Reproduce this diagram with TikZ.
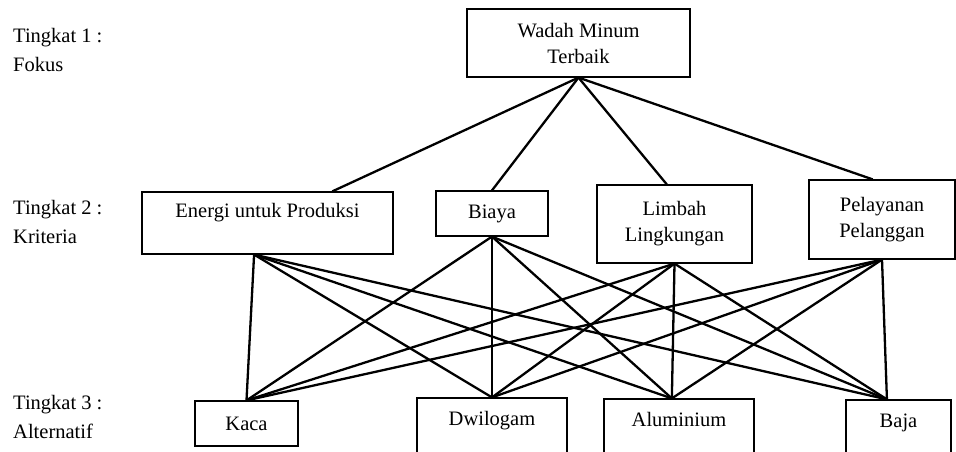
\documentclass[tikz,border=0pt]{standalone}
\usepackage{fontspec}
\setmainfont{Liberation Serif}
\begin{document}
\begin{tikzpicture}[x=1pt,y=-1pt,
   box/.style={draw,line width=1.2pt,inner sep=0pt,align=center,
      font=\fontsize{20.5}{26}\selectfont},
   lower/.style={text height=15pt,text depth=27pt},
   lvl/.style={inner sep=0pt,align=left,anchor=north west,
      font=\fontsize{20.5}{29.5}\selectfont},
   link/.style={line width=2.3pt}]
   \useasboundingbox (0,0) rectangle (956,452);
   \clip (0,0) rectangle (956,452);

   % tingkat
   \node[lvl] (t1) at (13,28)  {Tingkat 1 :\\Fokus};
   \node[lvl] (t2) at (13,200) {Tingkat 2 :\\Kriteria};
   \node[lvl] (t3) at (13,395) {Tingkat 3 :\\Alternatif};

   % fokus
   \node[box,minimum width=223pt,minimum height=68pt] (wadah) at (578.5,43) {Wadah Minum\\Terbaik};

   % kriteria
   \node[box,lower,minimum width=251pt,minimum height=62pt] (energi) at (267.5,223) {Energi untuk Produksi};
   \node[box,minimum width=112pt,minimum height=45pt] (biaya) at (492,213.5) {Biaya};
   \node[box,minimum width=155pt,minimum height=78pt] (limbah) at (674.5,224) {Limbah\\Lingkungan};
   \node[box,minimum width=146pt,minimum height=79pt] (pelayanan) at (882,219.5) {Pelayanan\\Pelanggan};

   % alternatif
   \node[box,minimum width=103pt,minimum height=45pt] (kaca) at (246.5,423.5) {Kaca};
   \node[box,lower,minimum width=150pt,minimum height=66pt] (dwilogam) at (492,431) {Dwilogam};
   \node[box,lower,minimum width=150pt,minimum height=66pt] (aluminium) at (679,432) {Aluminium};
   \node[box,lower,minimum width=105pt,minimum height=66pt] (baja) at (898.5,433) {Baja};

   \foreach \k/\ka in {energi/26,biaya/north,limbah/101,pelayanan/103}
      \draw[link] (wadah.south) -- (\k.\ka);
   \foreach \k/\kb in {energi/-113,biaya/south,limbah/south,pelayanan/south}
      \foreach \a/\aa in {kaca/north,dwilogam/north,aluminium/102,baja/109}
         \draw[link] (\k.\kb) -- (\a.\aa);
\end{tikzpicture}
\end{document}
